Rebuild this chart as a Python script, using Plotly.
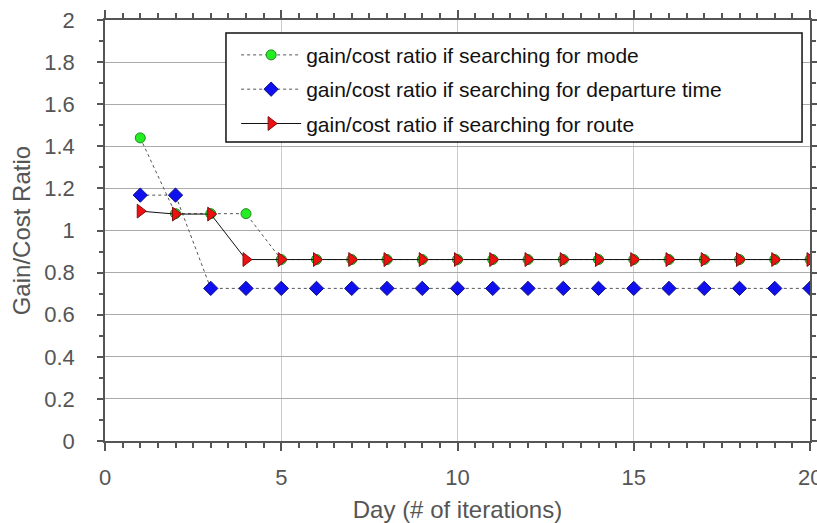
import plotly.graph_objects as go

days = list(range(1, 21))
mode_vals = [1.44, 1.08, 1.08, 1.08] + [0.862] * 16
dep_vals = [1.168, 1.168] + [0.725] * 18
route_vals = [1.092, 1.078, 1.078] + [0.862] * 17

names = ["gain/cost ratio if searching for mode",
         "gain/cost ratio if searching for departure time",
         "gain/cost ratio if searching for route"]
y_title = "Gain/Cost Ratio"
x_title = "Day (# of iterations)"

FONT = "Liberation Sans, Arial"
GRAY = "#555555"

fig = go.Figure()
fig.add_trace(go.Scatter(x=days, y=mode_vals, name=names[0], mode="lines+markers",
                         legendgroup="a",
                         line=dict(color="#555555", width=1, dash="dot"),
                         marker=dict(symbol="circle", size=10, color="#22ee22",
                                     line=dict(color="#228822", width=1))))
fig.add_trace(go.Scatter(x=days, y=dep_vals, name=names[1], mode="lines+markers",
                         legendgroup="b",
                         line=dict(color="#555555", width=1, dash="dot"),
                         marker=dict(symbol="diamond", size=11, color="#1010ee",
                                     line=dict(color="#101080", width=1))))
fig.add_trace(go.Scatter(x=days, y=route_vals, name=names[2], mode="lines+markers",
                         legendgroup="c",
                         line=dict(color="#111111", width=1),
                         marker=dict(symbol="triangle-right", size=12, color="#ee1111",
                                     line=dict(color="#801010", width=1))))

axis_common = dict(
    showline=True, linecolor=GRAY, linewidth=1.5, mirror="allticks",
    ticks="outside", tickcolor=GRAY, tickwidth=1.5,
    showgrid=True, gridwidth=1, zeroline=False,
    tickfont=dict(family=FONT, size=22, color=GRAY),
    automargin=False,
)

fig.update_xaxes(range=[0, 20], dtick=5, tick0=0, ticklen=8, gridcolor="#cccccc",
                 ticklabelstandoff=8,
                 minor=dict(dtick=0.5, ticks="outside", ticklen=5, tickcolor=GRAY, showgrid=False),
                 title=dict(text=x_title,
                            font=dict(family=FONT, size=24, color=GRAY)),
                 **axis_common)
fig.update_yaxes(range=[0, 2], dtick=0.2, tick0=0, tickformat="~g", ticklen=6, gridcolor="#aaaaaa",
                 ticklabelstandoff=18,
                 minor=dict(dtick=0.1, ticks="outside", ticklen=4, tickcolor=GRAY, showgrid=False),
                 **axis_common)

# y-axis title
fig.add_annotation(x=-0.118, xref="paper", y=0.5, yref="paper", xanchor="center", yanchor="middle",
                   text=y_title, textangle=-90, showarrow=False,
                   font=dict(family=FONT, size=24, color=GRAY))

# last x tick label, partly cut off at the right edge as in the original
fig.add_annotation(x=20, xref="x", y=0, yref="paper", yanchor="top", yshift=-22,
                   text="20", showarrow=False,
                   font=dict(family=FONT, size=22, color=GRAY))

# legend frame
fig.add_shape(type="rect", xref="paper", yref="paper",
              x0=0.1716, x1=0.9887, y0=0.710, y1=0.969,
              fillcolor="white", line=dict(color="#111111", width=1.5), layer="above")

fig.update_layout(
    width=817, height=523,
    margin=dict(l=105, r=7, t=20, b=82),
    plot_bgcolor="white", paper_bgcolor="white",
    showlegend=True,
    legend=dict(x=0.186, y=0.965, xanchor="left", yanchor="top",
                bgcolor="rgba(0,0,0,0)", borderwidth=0,
                font=dict(family=FONT, size=21, color="#111111"),
                tracegroupgap=4, itemwidth=60),
)

fig.write_html("out.html")
